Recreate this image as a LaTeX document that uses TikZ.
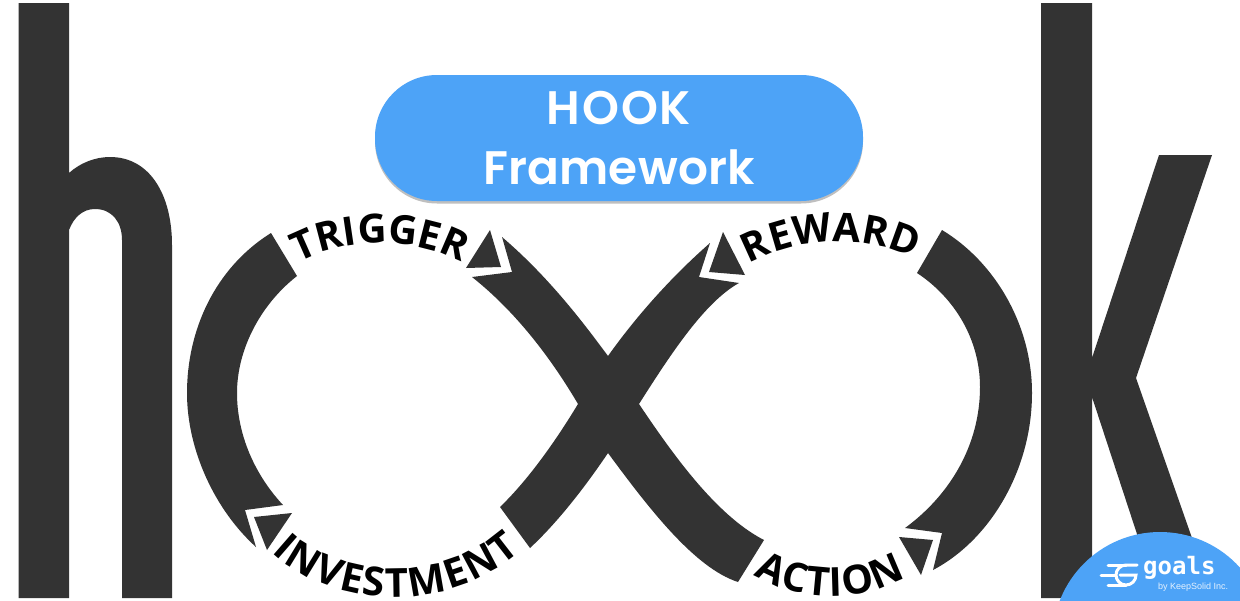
\documentclass[tikz,border=0pt]{standalone}
\usepackage{xcolor}
\usepackage{fontspec}
\usetikzlibrary{shadows,decorations.text}
\newfontfamily\pillfont{Poppins SemiBold}[LetterSpace=4]
\newfontfamily\arcfont{Open Sans}
\newfontfamily\goalsfont{DejaVu Sans Mono}
\newfontfamily\smallfont{Liberation Sans}
\definecolor{hookdark}{HTML}{333333}
\definecolor{hookblue}{HTML}{4DA3F7}
\tikzset{
    letterfill/.style={fill=hookdark},
    arrowtri/.style={fill=hookdark},
    pillbox/.style={fill=hookblue, rounded corners=62pt, minimum width=488pt, minimum height=126pt,
        inner sep=0pt, text=white, align=center, font=\pillfont\fontsize{47}{60}\selectfont,
        drop shadow={shadow xshift=0pt, shadow yshift=-2.5pt, fill=black!50}},
    arctext/.style={decorate, decoration={text along path, text align=fit to path, text={|\arcfont\bfseries\fontsize{40}{40}\selectfont|#1}}},
    arctop/.style={decorate, decoration={text along path, text align=center, text={|\arcfont\bfseries\fontsize{40}{40}\selectfont|#1}}}
}

\begin{document}
\begin{tikzpicture}[x=1pt,y=-1pt]
    \useasboundingbox (0,0) rectangle (1240,600);
    \fill[white] (0,0) rectangle (1240,600);

    % Letter h
    \fill[letterfill] (18.5,3) -- (69,3) -- (69,173) .. controls (80,163) and (95,157) .. (110,157)
        .. controls (150,157) and (172,195) .. (172,245) -- (172,598) -- (122,598) -- (122,240)
        .. controls (122,222) and (112,209) .. (95,209) .. controls (83,209) and (74,217) .. (69,230)
        -- (69,598) -- (18.5,598) -- cycle;

    % Letter k
    \fill[letterfill] (1041,3) -- (1092,3) -- (1092,358) -- (1159,155) -- (1212,155) -- (1136,378)
        -- (1213,598) -- (1158,598) -- (1092,397) -- (1092,598) -- (1041,598) -- cycle;

    % Left arc
    \fill[letterfill] (271,233) .. controls (215,268) and (187,330) .. (187,393)
        .. controls (187,450) and (215,510) .. (256,547) -- (245,510) -- (283,505)
        .. controls (255,475) and (237,435) .. (237,393) .. controls (237,350) and (260,305) .. (297,276) -- cycle;
    \fill[arrowtri] (292,513) -- (254,517) -- (267,550) -- cycle;

    % Right arc
    \fill[letterfill] (942,230) .. controls (995,262) and (1032,325) .. (1032,393)
        .. controls (1032,470) and (990,540) .. (933,570) -- (942,533) -- (905,528)
        .. controls (950,495) and (980,445) .. (980,387) .. controls (980,340) and (955,298) .. (917,273) -- cycle;
    \fill[arrowtri] (899,537) -- (933,540) -- (921,575) -- cycle;

    % Crossing
    \fill[letterfill] (502,237) .. controls (550,278) and (585,325) .. (608,356)
        .. controls (635,318) and (670,278) .. (710,243) -- (699,277) -- (739,283)
        .. controls (705,302) and (672,352) .. (639,404) .. controls (670,450) and (715,515) .. (764,540)
        -- (738,582) .. controls (695,568) and (650,510) .. (608,453)
        .. controls (585,487) and (558,522) .. (530,548) -- (500,507)
        .. controls (528,480) and (555,442) .. (578,404) .. controls (555,365) and (520,315) .. (472,277)
        -- (512,272) -- cycle;
    \fill[arrowtri] (490,230) -- (466,268) -- (501,267) -- cycle;
    \fill[arrowtri] (723,232) -- (709,272) -- (745,275) -- cycle;

    % Arc labels
    \path[arctop=TRIGGER] (285,271) .. controls (335,234) and (425,234) .. (475,271);
    \path[arctop=REWARD] (732,275) .. controls (787,233) and (877,231) .. (932,268);
    \path[arctext=ACTION] (754,575) .. controls (800,603) and (860,603) .. (906,577);
    \path[arctext=INVESTMENT] (272,552) .. controls (335,612) and (452,612) .. (520,551);

    % Title pill
    \node (hookpill) at (619,138) [pillbox] {HOOK\\{\addfontfeature{LetterSpace=0.5}Framework}};

    % Corner badge
    \begin{scope}
        \clip (0,0) rectangle (1240,600);
        \fill[hookblue] (1160,639.5) circle (107.5pt);
    \end{scope}
    \draw[white, line width=3pt, line cap=round] (1137,565) -- (1126,565) arc (90:360:10pt) -- (1120,575);
    \draw[white, line width=3pt, line cap=round] (1108,565) -- (1126,565);
    \draw[white, line width=3pt, line cap=round] (1101,575) -- (1115,575);
    \draw[white, line width=3pt, line cap=round] (1108,585) -- (1126,585);
    \node (goalsword) at (1143,574) [anchor=base west, inner sep=0pt, text=white, font=\goalsfont\bfseries\fontsize{24}{24}\selectfont] {goals};
    \node (keepsolid) at (1158,589) [anchor=base west, inner sep=0pt, text=white!85!hookblue, font=\smallfont\fontsize{9}{9}\selectfont] {by KeepSolid Inc.};
\end{tikzpicture}
\end{document}
